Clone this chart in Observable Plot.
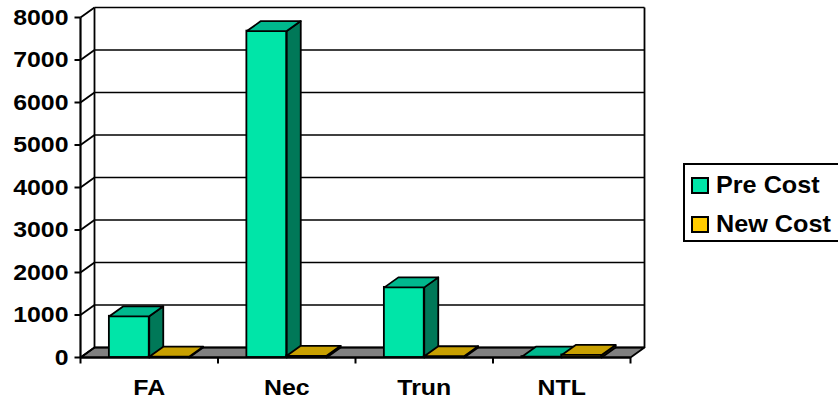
<!DOCTYPE html>
<html>
<head>
<meta charset="utf-8">
<script src="https://cdn.jsdelivr.net/npm/d3@7"></script>
<script src="https://cdn.jsdelivr.net/npm/@observablehq/plot@0.6"></script>
<style>
  html, body { margin: 0; padding: 0; background: #fff; overflow: hidden; }
  #wrap { position: relative; width: 838px; height: 399px; overflow: hidden; }
  #legend { position: absolute; left: 683px; top: 163px; width: 170px; height: 79px;
    border: 2px solid #000; box-sizing: border-box; background: #fff;
    font-family: "Liberation Sans", Arial, sans-serif; font-weight: bold; font-size: 24px; }
  .item { position: absolute; left: 0; height: 24px; line-height: 24px; white-space: nowrap; }
  .sw { position: absolute; left: 6px; width: 18px; height: 17px; border: 2px solid #000; box-sizing: border-box; }
  .lab { position: absolute; left: 31px; top: 0; transform: scaleX(1.05); transform-origin: left center; }
</style>
</head>
<body>
<div id="wrap"><div id="chart"></div><div id="legend"></div></div>
<script>
// ---- data ----
const categories = ["FA", "Nec", "Trun", "NTL"];
const seriesNames = ["Pre Cost", "New Cost"];
const preCost = [970, 7680, 1650, 20];
const newCost = [20, 40, 30, 60];
const yTicks = [0, 1000, 2000, 3000, 4000, 5000, 6000, 7000, 8000];

// ---- styling ----
const faceColors = {
  "Pre Cost": {front: "#00E5A8", side: "#007858", top: "#00B88E", legend: "#00E5A8"},
  "New Cost": {front: "#FFCC00", side: "#806600", top: "#C8A000", legend: "#FFCC00"}
};
const W = 838, H = 399, mL = 80, mR = 208, mT = 17, mB = 42;
const xMax = categories.length, yMax = 8000;
const pxX = xMax / (W - mL - mR), pxY = yMax / (H - mT - mB);
const ddx = 14 * pxX, ddy = 10 * pxY;   // oblique depth
const gap = 0.21, bw = 0.29;

// bar faces built from data
const bars = [];
categories.forEach((c, i) => {
  [preCost, newCost].forEach((vals, s) => {
    const v = vals[i], name = seriesNames[s];
    const x0 = i + gap + s * bw, x1 = x0 + bw;
    bars.push({
      name,
      front: [{x1: x0, x2: x1, y1: 0, y2: v}],
      side: [{x: x1, y: 0}, {x: x1 + ddx, y: ddy}, {x: x1 + ddx, y: v + ddy}, {x: x1, y: v}],
      top: [{x: x0, y: v}, {x: x1, y: v}, {x: x1 + ddx, y: v + ddy}, {x: x0 + ddx, y: v + ddy}]
    });
  });
});
const floor = [{x: 0, y: 0}, {x: xMax, y: 0}, {x: xMax + ddx, y: ddy}, {x: ddx, y: ddy}];
const grid = yTicks.map(t => ({x1: ddx, x2: xMax + ddx, y1: t + ddy, y2: t + ddy}));
const wallLinks = yTicks.map(t => ({x1: 0, x2: ddx, y1: t, y2: t + ddy}));
const frame = [
  {x1: ddx, x2: ddx, y1: ddy, y2: yMax + ddy},
  {x1: xMax + ddx, x2: xMax + ddx, y1: ddy, y2: yMax + ddy}
];
const catBounds = d3.range(xMax + 1);

const barMarks = bars.flatMap(b => [
  Plot.rectY(b.front, {x1: "x1", x2: "x2", y1: "y1", y2: "y2", fill: faceColors[b.name].front, stroke: "#000", strokeWidth: 1.8, inset: 0}),
  Plot.line(b.side, {x: "x", y: "y", fill: faceColors[b.name].side, stroke: "#000", strokeWidth: 1.8, curve: "linear-closed"}),
  Plot.line(b.top, {x: "x", y: "y", fill: faceColors[b.name].top, stroke: "#000", strokeWidth: 1.8, curve: "linear-closed"})
]);

const chart = Plot.plot({
  width: W, height: H,
  marginLeft: mL, marginRight: mR, marginTop: mT, marginBottom: mB,
  style: {background: "#fff", fontFamily: "'Liberation Sans', Arial, sans-serif", fontWeight: "bold", fontSize: "22px", color: "#000", overflow: "visible"},
  x: {type: "linear", domain: [0, xMax], axis: null},
  y: {type: "linear", domain: [0, yMax], axis: null},
  marks: [
    Plot.line(floor, {x: "x", y: "y", fill: "#808080", stroke: "#000", strokeWidth: 1.8, curve: "linear-closed"}),
    Plot.link(grid, {x1: "x1", y1: "y1", x2: "x2", y2: "y2", stroke: "#000", strokeWidth: 1.6}),
    Plot.link(wallLinks, {x1: "x1", y1: "y1", x2: "x2", y2: "y2", stroke: "#000", strokeWidth: 1.8}),
    Plot.link(frame, {x1: "x1", y1: "y1", x2: "x2", y2: "y2", stroke: "#000", strokeWidth: 1.8}),
    Plot.link([{x1: 0, y1: 0, x2: 0, y2: yMax}], {x1: "x1", y1: "y1", x2: "x2", y2: "y2", stroke: "#000", strokeWidth: 2.2}),
    Plot.link(yTicks, {x1: 0, x2: -6 * pxX, y1: d => d, y2: d => d, stroke: "#000", strokeWidth: 2}),
    Plot.link(catBounds, {x1: d => d, x2: d => d, y1: 0, y2: -6 * pxY, stroke: "#000", strokeWidth: 2}),
    ...barMarks,
    Plot.link([{x1: 0, y1: 0, x2: xMax, y2: 0}], {x1: "x1", y1: "y1", x2: "x2", y2: "y2", stroke: "#000", strokeWidth: 2.2}),
    Plot.text(yTicks, {x: 0, y: d => d, text: d => String(d), textAnchor: "end", dx: -12, fill: "#000", fontSize: 22, fontWeight: "bold"}),
    Plot.text(categories, {x: (d, i) => i + 0.5, y: 0, text: d => d, lineAnchor: "top", dy: 22, fill: "#000", fontSize: 22, fontWeight: "bold"})
  ]
});
document.getElementById("chart").appendChild(chart);

// horizontal stretch of the text, as in the original
chart.querySelectorAll("text").forEach(t => {
  const len = t.getComputedTextLength();
  t.setAttribute("textLength", (len * 1.13).toFixed(1));
  t.setAttribute("lengthAdjust", "spacingAndGlyphs");
});

// legend
const legend = document.getElementById("legend");
seriesNames.forEach((name, k) => {
  const item = document.createElement("div");
  item.className = "item";
  item.style.top = (k === 0 ? 8 : 47) + "px";
  const sw = document.createElement("div");
  sw.className = "sw";
  sw.style.background = faceColors[name].legend;
  sw.style.top = "4px";
  const lab = document.createElement("span");
  lab.className = "lab";
  lab.textContent = name;
  item.appendChild(sw); item.appendChild(lab);
  legend.appendChild(item);
});
</script>
</body>
</html>
